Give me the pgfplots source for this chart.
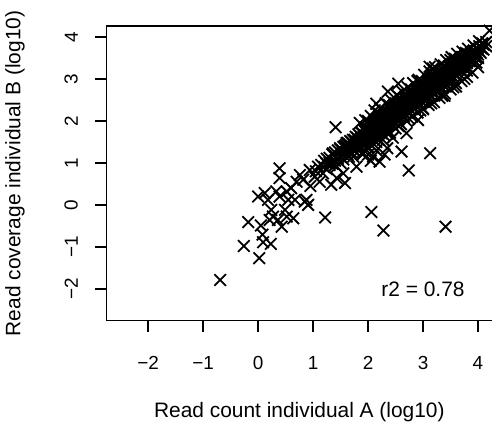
\documentclass[border=0pt]{standalone}
\usepackage{fontspec}
\setmainfont{Liberation Sans}
\usepackage{pgfplots}
\pgfplotsset{compat=1.18}

\begin{document}
\begin{tikzpicture}
\begin{axis}[
    x=55bp, y=42bp,
    xmin=-2.76, xmax=4.26,
    ymin=-2.76, ymax=4.26,
    axis line style={line width=1.5bp},
    every tick/.style={line width=1.5bp, black},
    tick align=outside,
    major tick length=11bp,
    xtick pos=bottom, ytick pos=left,
    xtick={-2,-1,0,1,2,3,4},
    ytick={-2,-1,0,1,2,3,4},
    xticklabels={−2,−1,0,1,2,3,4},
    yticklabels={−2,−1,0,1,2,3,4},
    ticklabel style={font=\fontsize{19}{21}\selectfont},
    xticklabel shift=21bp,
    yticklabel shift=14bp,
    yticklabel style={rotate=90, anchor=south},
    xlabel={Read count individual A (log10)},
    ylabel={Read coverage individual B (log10)},
    label style={font=\fontsize{21}{24}\selectfont},
    xlabel style={at={(axis description cs:0.5,-0.328)}, anchor=base},
    ylabel style={at={(axis description cs:-0.2227,0.5)}, anchor=base},
    pts/.style={only marks, mark=x, line width=1.8bp, mark size=8.2bp, black},
]
% outliers and low-count genes
\addplot[pts] coordinates {
(-0.69,-1.79) (0.02,-1.27) (-0.26,-0.98) (0.09,-0.89) (0.23,-0.93) (0.08,-0.71)
(-0.18,-0.41) (0.05,-0.49) (0.39,0.87) (0.39,0.64) (0.00,0.20) (0.12,0.28)
(0.18,0.12) (0.24,-0.12) (0.27,-0.28) (0.36,-0.36) (0.43,-0.52) (0.52,-0.28)
(0.64,-0.32) (0.49,-0.12) (0.39,0.20) (0.52,0.32) (0.55,0.12) (0.33,0.32)
(0.67,0.12) (0.21,-0.36) (0.88,0.12) (0.91,0.00) (0.85,0.08) (1.22,-0.30)
(0.76,0.71) (0.82,0.60) (0.94,0.83) (1.03,0.67) (1.12,0.55) (1.09,0.91)
(1.18,0.75) (1.33,0.48) (1.58,0.52) (1.43,0.64) (1.43,0.91) (1.55,0.75)
(1.24,0.99) (1.36,1.23) (1.41,1.85) (1.49,1.35) (1.61,1.47) (1.79,0.91)
(1.73,1.15) (2.06,-0.17) (2.28,-0.61) (3.41,-0.52) (3.13,1.23) (2.74,0.82)
(4.30,1.40) (4.21,4.15) (2.55,2.89) (2.36,2.70) (2.15,2.41) (2.61,1.27)
(2.21,1.03) (2.09,1.15) (2.27,1.55) (2.70,1.71) (2.91,2.02) (3.39,2.60)
(3.97,3.39) (4.09,3.83) (3.18,3.25) (3.12,3.29) (2.90,2.95) (3.50,3.45)
(3.73,3.52) (2.45,1.60) (3.00,2.30) (3.60,2.90) (3.80,3.20) (2.35,1.35)
(1.90,1.20) (2.00,1.20) (2.05,1.05) (2.30,1.20) (2.15,1.30) (0.95,0.45)
(1.05,0.80) (0.70,0.55) (1.15,0.95) (0.60,0.40)
};
% main band
\addplot[pts] coordinates {
(1.20,0.90) (1.20,1.05) (1.25,0.85) (1.25,1.10) (1.30,0.95) (1.30,1.12) (1.30,1.00)
(1.35,0.98) (1.35,1.20) (1.40,1.05) (1.40,1.25) (1.40,0.95) (1.45,1.10) (1.45,1.30)
(1.50,1.15) (1.50,1.32) (1.50,1.00) (1.55,1.20) (1.55,1.38) (1.55,1.08)
(1.60,1.25) (1.60,1.42) (1.60,1.35) (1.65,1.28) (1.65,1.45) (1.65,1.15)
(1.70,1.35) (1.70,1.50) (1.70,1.40) (1.70,1.25) (1.75,1.40) (1.75,1.55) (1.75,1.30)
(1.80,1.42) (1.80,1.60) (1.80,1.50) (1.80,1.35) (1.85,1.48) (1.85,1.65) (1.85,1.55) (1.85,1.40)
(1.90,1.52) (1.90,1.70) (1.90,1.60) (1.90,1.45) (1.95,1.58) (1.95,1.75) (1.95,1.65) (1.95,1.50) (1.95,1.85)
(2.00,1.62) (2.00,1.80) (2.00,1.70) (2.00,1.55) (2.00,1.35) (2.05,1.68) (2.05,1.85) (2.05,1.75) (2.05,1.60)
(2.10,1.72) (2.10,1.88) (2.10,1.80) (2.10,1.65) (2.10,1.95) (2.15,1.78) (2.15,1.92) (2.15,1.85) (2.15,1.70) (2.15,1.60)
(2.20,1.82) (2.20,1.98) (2.20,1.90) (2.20,1.75) (2.20,2.05) (2.25,1.88) (2.25,2.02) (2.25,1.95) (2.25,1.80) (2.25,1.70)
(2.30,1.92) (2.30,2.08) (2.30,2.00) (2.30,1.85) (2.30,2.15) (2.35,1.98) (2.35,2.12) (2.35,2.05) (2.35,1.90) (2.35,1.80)
(2.40,2.02) (2.40,2.18) (2.40,2.10) (2.40,1.95) (2.40,2.25) (2.45,2.08) (2.45,2.22) (2.45,2.15) (2.45,2.00) (2.45,1.90)
(2.50,2.12) (2.50,2.28) (2.50,2.20) (2.50,2.05) (2.50,2.35) (2.55,2.18) (2.55,2.32) (2.55,2.25) (2.55,2.10) (2.55,2.00)
(2.60,2.22) (2.60,2.38) (2.60,2.30) (2.60,2.15) (2.60,2.45) (2.65,2.28) (2.65,2.42) (2.65,2.35) (2.65,2.20) (2.65,2.10)
(2.70,2.32) (2.70,2.48) (2.70,2.40) (2.70,2.25) (2.70,2.55) (2.75,2.38) (2.75,2.52) (2.75,2.45) (2.75,2.30) (2.75,2.20)
(2.80,2.42) (2.80,2.58) (2.80,2.50) (2.80,2.35) (2.80,2.62) (2.85,2.48) (2.85,2.62) (2.85,2.55) (2.85,2.40) (2.85,2.30)
(2.90,2.52) (2.90,2.68) (2.90,2.60) (2.90,2.45) (2.90,2.72) (2.95,2.58) (2.95,2.72) (2.95,2.65) (2.95,2.50) (2.95,2.40)
(3.00,2.62) (3.00,2.78) (3.00,2.70) (3.00,2.55) (3.00,2.82) (3.05,2.68) (3.05,2.82) (3.05,2.75) (3.05,2.60) (3.05,2.50)
(3.10,2.72) (3.10,2.88) (3.10,2.80) (3.10,2.65) (3.10,2.92) (3.15,2.78) (3.15,2.92) (3.15,2.85) (3.15,2.70) (3.15,2.60)
(3.20,2.82) (3.20,2.95) (3.20,2.88) (3.20,2.75) (3.20,3.02) (3.25,2.85) (3.25,3.00) (3.25,2.92) (3.25,2.78) (3.25,2.70)
(3.30,2.90) (3.30,3.05) (3.30,2.98) (3.30,2.82) (3.35,2.95) (3.35,3.10) (3.35,3.02) (3.35,2.88) (3.35,2.78)
(3.40,3.00) (3.40,3.15) (3.40,3.08) (3.40,2.92) (3.45,3.05) (3.45,3.18) (3.45,3.12) (3.45,2.98)
(3.50,3.10) (3.50,3.22) (3.50,3.15) (3.50,3.02) (3.55,3.15) (3.55,3.28) (3.55,3.20) (3.55,3.05)
(3.60,3.18) (3.60,3.32) (3.60,3.25) (3.60,3.10) (3.65,3.22) (3.65,3.38) (3.65,3.30)
(3.70,3.28) (3.70,3.42) (3.70,3.35) (3.70,3.20) (3.75,3.32) (3.75,3.45) (3.75,3.40)
(3.80,3.38) (3.80,3.50) (3.80,3.30) (3.85,3.42) (3.85,3.55) (3.90,3.48) (3.90,3.60) (3.90,3.40)
(3.95,3.52) (3.95,3.62) (4.00,3.58) (4.00,3.70) (4.00,3.50) (4.05,3.62) (4.05,3.75)
(4.10,3.70) (4.10,3.82) (4.15,3.78) (4.15,3.88)
(1.525,1.22) (1.525,1.30) (1.575,1.25) (1.575,1.40) (1.625,1.33) (1.625,1.48) (1.625,1.20)
(1.675,1.38) (1.675,1.52) (1.725,1.45) (1.725,1.55) (1.725,1.32) (1.775,1.48) (1.775,1.62)
(1.825,1.52) (1.825,1.68) (1.825,1.45) (1.875,1.58) (1.875,1.72) (1.875,1.50)
(1.925,1.62) (1.925,1.78) (1.925,1.55) (1.975,1.68) (1.975,1.82) (1.975,1.60) (1.975,1.75)
(2.025,1.72) (2.025,1.88) (2.025,1.65) (2.025,1.80) (2.075,1.78) (2.075,1.92) (2.075,1.70) (2.075,1.85)
(2.125,1.82) (2.125,1.98) (2.125,1.75) (2.125,1.90) (2.175,1.88) (2.175,2.02) (2.175,1.80) (2.175,1.95)
(2.225,1.92) (2.225,2.08) (2.225,1.85) (2.225,2.00) (2.275,1.98) (2.275,2.12) (2.275,1.90) (2.275,2.05)
(2.325,2.02) (2.325,2.18) (2.325,1.95) (2.325,2.10) (2.375,2.08) (2.375,2.22) (2.375,2.00) (2.375,2.15)
(2.425,2.12) (2.425,2.28) (2.425,2.05) (2.425,2.20) (2.475,2.18) (2.475,2.32) (2.475,2.10) (2.475,2.25)
(2.525,2.22) (2.525,2.38) (2.525,2.15) (2.525,2.30) (2.575,2.28) (2.575,2.42) (2.575,2.20) (2.575,2.35)
(2.625,2.32) (2.625,2.48) (2.625,2.25) (2.625,2.40) (2.675,2.38) (2.675,2.52) (2.675,2.30) (2.675,2.45)
(2.725,2.42) (2.725,2.58) (2.725,2.35) (2.725,2.50) (2.775,2.48) (2.775,2.62) (2.775,2.40) (2.775,2.55)
(2.825,2.52) (2.825,2.68) (2.825,2.45) (2.825,2.60) (2.875,2.58) (2.875,2.72) (2.875,2.50) (2.875,2.65)
(2.925,2.62) (2.925,2.78) (2.925,2.55) (2.925,2.70) (2.975,2.68) (2.975,2.82) (2.975,2.60) (2.975,2.75)
(3.025,2.72) (3.025,2.88) (3.025,2.65) (3.025,2.80) (3.075,2.78) (3.075,2.92) (3.075,2.70) (3.075,2.85)
(3.125,2.82) (3.125,2.98) (3.125,2.75) (3.125,2.90) (3.175,2.88) (3.175,3.02) (3.175,2.80) (3.175,2.95)
(3.225,2.92) (3.225,3.08) (3.225,2.85) (3.275,2.98) (3.275,3.12) (3.275,2.90)
(3.325,3.02) (3.325,3.18) (3.325,2.95) (3.375,3.08) (3.375,3.20) (3.375,2.98)
(3.425,3.12) (3.425,3.25) (3.425,3.02) (3.475,3.15) (3.475,3.30) (3.475,3.08)
(3.525,3.20) (3.525,3.32) (3.575,3.25) (3.575,3.38) (3.625,3.28) (3.625,3.42)
(3.675,3.32) (3.675,3.45) (3.725,3.38) (3.725,3.50) (3.775,3.42) (3.775,3.55)
(3.825,3.45) (3.825,3.58) (3.875,3.52) (3.875,3.62) (3.925,3.55) (3.925,3.68)
(3.975,3.62) (3.975,3.72) (4.025,3.66) (4.025,3.78) (4.075,3.72) (4.075,3.85)
};
% fringe of the band
\addplot[pts] coordinates {
(1.85,1.95) (1.95,2.02) (2.05,2.12) (2.12,2.25) (2.22,2.30) (2.32,2.42) (2.42,2.50)
(2.52,2.62) (2.62,2.70) (2.72,2.80) (2.82,2.90) (2.92,2.98) (3.02,3.10) (3.12,3.18)
(3.22,3.28) (3.32,3.35) (3.42,3.45) (3.52,3.52) (3.62,3.60) (3.72,3.65) (3.82,3.72)
(3.92,3.80) (4.02,3.90) (2.00,2.00) (2.18,2.20) (2.38,2.38) (2.58,2.55) (2.78,2.75)
(2.98,2.95) (3.18,3.12) (3.38,3.32) (3.58,3.48) (3.78,3.62)
(1.90,1.25) (2.00,1.38) (2.10,1.45) (2.20,1.55) (2.30,1.65) (2.40,1.72) (2.50,1.82)
(2.60,1.92) (2.70,2.00) (2.80,2.10) (2.90,2.20) (3.00,2.28) (3.10,2.38) (3.20,2.45)
(3.30,2.55) (3.40,2.65) (3.50,2.75) (3.60,2.82) (3.70,2.95) (3.80,3.05) (3.90,3.15)
(4.00,3.28) (2.15,1.50) (2.35,1.70) (2.55,1.88) (2.75,2.05) (2.95,2.25) (3.15,2.42)
(3.35,2.60) (3.55,2.80) (3.75,3.00)
(2.20,2.10) (2.40,2.30) (2.60,2.50) (2.80,2.70) (3.00,2.90) (3.20,3.08) (3.40,3.25)
(3.60,3.42) (3.80,3.58) (2.30,2.20) (2.50,2.40) (2.70,2.60) (2.90,2.80) (3.10,2.98)
(3.30,3.15) (3.50,3.35) (3.70,3.50)
};
\node[font=\fontsize{21}{24}\selectfont] at (axis cs:3,-2) {r2 = 0.78};
\coordinate (bl) at (axis cs:-4.696,-5.238);
\coordinate (tr) at (axis cs:4.255,4.881);
\end{axis}
\pgfresetboundingbox
\path[use as bounding box] (bl) rectangle (tr);
\end{tikzpicture}
\end{document}
